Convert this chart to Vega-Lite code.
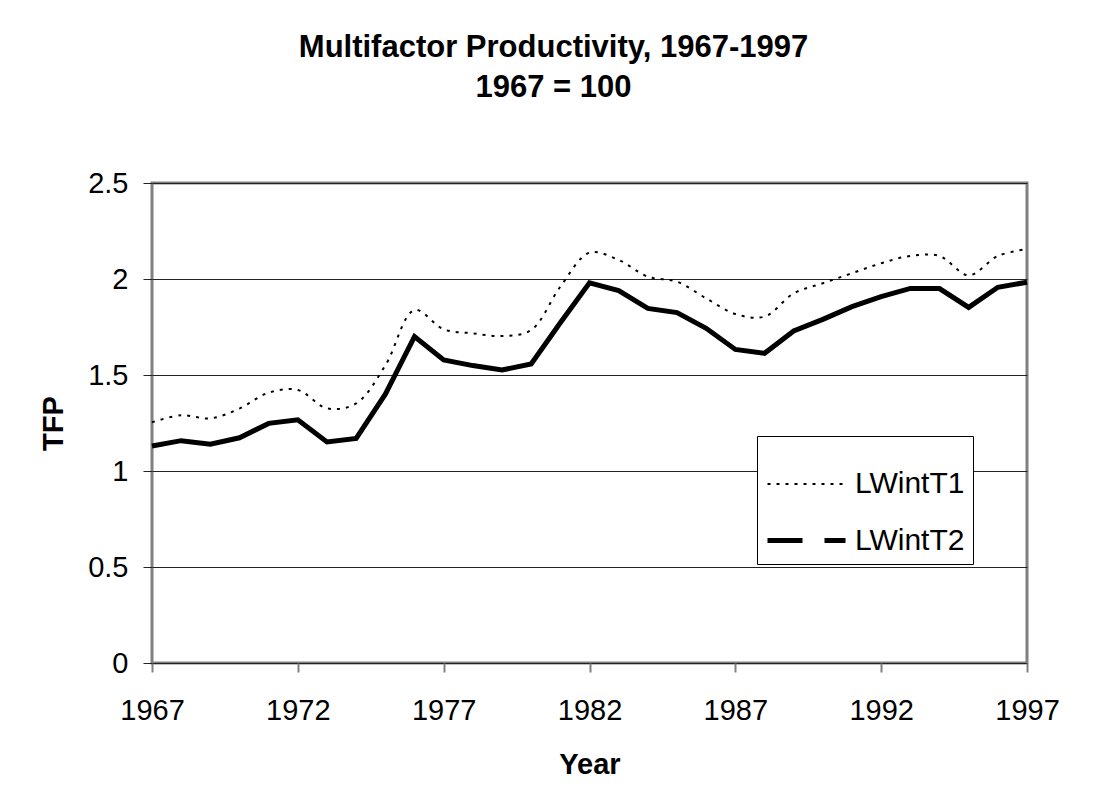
{
  "$schema": "https://vega.github.io/schema/vega-lite/v6.json",
  "width": 875,
  "height": 480,
  "autosize": {"type": "none"},
  "padding": {"left": 152, "top": 183, "right": 80, "bottom": 144},
  "background": "white",
  "config": {
    "font": "Liberation Sans",
    "view": {"stroke": "#808080", "strokeWidth": 3}
  },
  "title": {
    "text": ["Multifactor Productivity, 1967-1997", "1967 = 100"],
    "fontSize": 31,
    "fontWeight": "bold",
    "font": "Liberation Sans",
    "lineHeight": 40,
    "anchor": "middle",
    "dx": -36,
    "offset": 65,
    "color": "black"
  },
  "data": {
    "values": [
      {"year": 1967, "series": "LWintT1", "value": 1.254},
      {"year": 1968, "series": "LWintT1", "value": 1.29},
      {"year": 1969, "series": "LWintT1", "value": 1.274},
      {"year": 1970, "series": "LWintT1", "value": 1.325},
      {"year": 1971, "series": "LWintT1", "value": 1.408},
      {"year": 1972, "series": "LWintT1", "value": 1.422},
      {"year": 1973, "series": "LWintT1", "value": 1.326},
      {"year": 1974, "series": "LWintT1", "value": 1.352},
      {"year": 1975, "series": "LWintT1", "value": 1.55},
      {"year": 1976, "series": "LWintT1", "value": 1.838},
      {"year": 1977, "series": "LWintT1", "value": 1.738},
      {"year": 1978, "series": "LWintT1", "value": 1.717},
      {"year": 1979, "series": "LWintT1", "value": 1.703},
      {"year": 1980, "series": "LWintT1", "value": 1.734},
      {"year": 1981, "series": "LWintT1", "value": 1.96},
      {"year": 1982, "series": "LWintT1", "value": 2.137},
      {"year": 1983, "series": "LWintT1", "value": 2.099},
      {"year": 1984, "series": "LWintT1", "value": 2.012},
      {"year": 1985, "series": "LWintT1", "value": 1.986},
      {"year": 1986, "series": "LWintT1", "value": 1.899},
      {"year": 1987, "series": "LWintT1", "value": 1.818},
      {"year": 1988, "series": "LWintT1", "value": 1.804},
      {"year": 1989, "series": "LWintT1", "value": 1.925},
      {"year": 1990, "series": "LWintT1", "value": 1.978},
      {"year": 1991, "series": "LWintT1", "value": 2.03},
      {"year": 1992, "series": "LWintT1", "value": 2.082},
      {"year": 1993, "series": "LWintT1", "value": 2.12},
      {"year": 1994, "series": "LWintT1", "value": 2.12},
      {"year": 1995, "series": "LWintT1", "value": 2.019},
      {"year": 1996, "series": "LWintT1", "value": 2.12},
      {"year": 1997, "series": "LWintT1", "value": 2.156},
      {"year": 1967, "series": "LWintT2", "value": 1.13},
      {"year": 1968, "series": "LWintT2", "value": 1.158},
      {"year": 1969, "series": "LWintT2", "value": 1.14},
      {"year": 1970, "series": "LWintT2", "value": 1.173},
      {"year": 1971, "series": "LWintT2", "value": 1.248},
      {"year": 1972, "series": "LWintT2", "value": 1.267},
      {"year": 1973, "series": "LWintT2", "value": 1.151},
      {"year": 1974, "series": "LWintT2", "value": 1.17},
      {"year": 1975, "series": "LWintT2", "value": 1.4},
      {"year": 1976, "series": "LWintT2", "value": 1.7},
      {"year": 1977, "series": "LWintT2", "value": 1.578},
      {"year": 1978, "series": "LWintT2", "value": 1.549},
      {"year": 1979, "series": "LWintT2", "value": 1.526},
      {"year": 1980, "series": "LWintT2", "value": 1.557},
      {"year": 1981, "series": "LWintT2", "value": 1.772},
      {"year": 1982, "series": "LWintT2", "value": 1.98},
      {"year": 1983, "series": "LWintT2", "value": 1.94},
      {"year": 1984, "series": "LWintT2", "value": 1.847},
      {"year": 1985, "series": "LWintT2", "value": 1.825},
      {"year": 1986, "series": "LWintT2", "value": 1.743},
      {"year": 1987, "series": "LWintT2", "value": 1.633},
      {"year": 1988, "series": "LWintT2", "value": 1.613},
      {"year": 1989, "series": "LWintT2", "value": 1.729},
      {"year": 1990, "series": "LWintT2", "value": 1.79},
      {"year": 1991, "series": "LWintT2", "value": 1.856},
      {"year": 1992, "series": "LWintT2", "value": 1.908},
      {"year": 1993, "series": "LWintT2", "value": 1.951},
      {"year": 1994, "series": "LWintT2", "value": 1.95},
      {"year": 1995, "series": "LWintT2", "value": 1.852},
      {"year": 1996, "series": "LWintT2", "value": 1.957},
      {"year": 1997, "series": "LWintT2", "value": 1.983}
    ]
  },
  "encoding": {
    "x": {
      "field": "year",
      "type": "quantitative",
      "scale": {"domain": [1967, 1997], "nice": false, "zero": false},
      "axis": {
        "values": [1967, 1972, 1977, 1982, 1987, 1992, 1997],
        "format": "d",
        "grid": false,
        "domain": false,
        "labelFontSize": 29,
        "labelColor": "black",
        "labelFlush": false,
        "labelPadding": 24,
        "tickColor": "#808080",
        "tickSize": 9,
        "tickWidth": 2,
        "title": "Year",
        "titleFontSize": 29,
        "titleFontWeight": "bold",
        "titleColor": "black",
        "titlePadding": 25
      }
    },
    "y": {
      "field": "value",
      "type": "quantitative",
      "scale": {"domain": [0, 2.5], "nice": false},
      "axis": {
        "values": [0, 0.5, 1, 1.5, 2, 2.5],
        "format": "~g",
        "grid": true,
        "gridColor": "#222222",
        "gridWidth": 1,
        "domain": false,
        "labelFontSize": 29,
        "labelColor": "black",
        "labelPadding": 15,
        "tickColor": "#222222",
        "tickSize": 9,
        "tickWidth": 1,
        "title": "TFP",
        "titleFontSize": 29,
        "titleFontWeight": "bold",
        "titleColor": "black",
        "titlePadding": 19
      }
    }
  },
  "layer": [
    {
      "transform": [{"filter": "datum.series === 'LWintT1'"}],
      "mark": {"type": "line", "interpolate": "catmull-rom", "color": "black"},
      "encoding": {
        "strokeDash": {
          "field": "series",
          "type": "nominal",
          "scale": {"domain": ["LWintT1", "LWintT2"], "range": [[3, 6], [35, 22]]},
          "legend": {
            "title": null,
            "orient": "none",
            "legendX": 605,
            "legendY": 253,
            "strokeColor": "black",
            "fillColor": "white",
            "padding": 8,
            "symbolSize": 6084,
            "symbolStrokeColor": "black",
            "labelFontSize": 30,
            "labelColor": "black",
            "labelOffset": 7,
            "rowPadding": -11
          }
        },
        "strokeWidth": {
          "field": "series",
          "type": "nominal",
          "scale": {"domain": ["LWintT1", "LWintT2"], "range": [2, 5]},
          "legend": {
            "title": null,
            "orient": "none",
            "legendX": 605,
            "legendY": 253,
            "strokeColor": "black",
            "fillColor": "white",
            "padding": 8,
            "symbolSize": 6084,
            "symbolStrokeColor": "black",
            "labelFontSize": 30,
            "labelColor": "black",
            "labelOffset": 7,
            "rowPadding": -11
          }
        }
      }
    },
    {
      "transform": [{"filter": "datum.series === 'LWintT2'"}],
      "mark": {"type": "line", "interpolate": "linear", "color": "black", "strokeWidth": 5}
    }
  ]
}
